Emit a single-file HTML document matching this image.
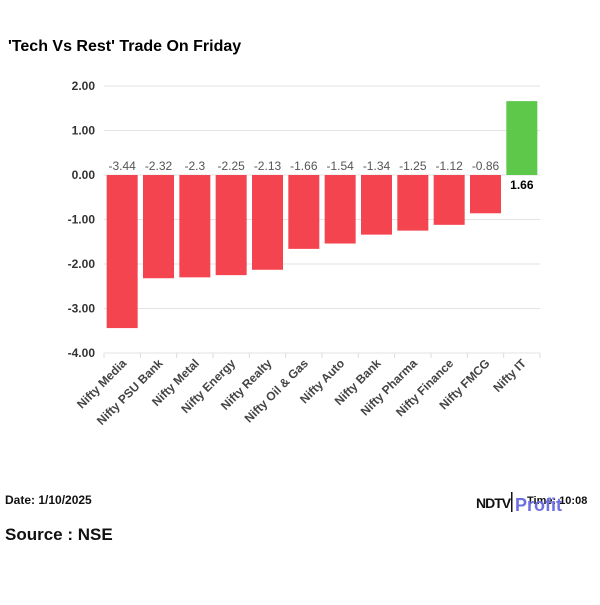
<!DOCTYPE html>
<html><head><meta charset="utf-8"><style>
body{margin:0;background:#fff;width:600px;height:600px;overflow:hidden;font-family:"Liberation Sans",sans-serif}
</style></head><body>
<svg width="600" height="600" xmlns="http://www.w3.org/2000/svg">
<text x="8" y="51" font-size="16" font-weight="bold" fill="#000">'Tech Vs Rest' Trade On Friday</text>
<g id="grid"></g><g id="bars"></g><g id="labels"></g>
<text x="5" y="504" font-size="12" font-weight="bold" fill="#111">Date: 1/10/2025</text>
<text x="5" y="540" font-size="17" font-weight="bold" fill="#111">Source : NSE</text>
<g>
<text x="476" y="508" font-size="14" font-weight="bold" fill="#111" letter-spacing="-1">NDTV</text>
<rect x="511" y="492" width="1.5" height="20" fill="#111"/>
<text x="527" y="504" font-size="11" font-weight="bold" fill="#111">Time: 10:08</text>
<text x="515" y="511" font-size="18" font-weight="bold" fill="#6b6fe0">Profit</text>
</g>
</svg>
<script>
const categories=["Nifty Media","Nifty PSU Bank","Nifty Metal","Nifty Energy","Nifty Realty","Nifty Oil & Gas","Nifty Auto","Nifty Bank","Nifty Pharma","Nifty Finance","Nifty FMCG","Nifty IT"];
const values=[-3.44,-2.32,-2.3,-2.25,-2.13,-1.66,-1.54,-1.34,-1.25,-1.12,-0.86,1.66];
const valueLabels=["-3.44","-2.32","-2.3","-2.25","-2.13","-1.66","-1.54","-1.34","-1.25","-1.12","-0.86","1.66"];
const yTicks=[2,1,0,-1,-2,-3,-4];
const tickLabels=["2.00","1.00","0.00","-1.00","-2.00","-3.00","-4.00"];
const NS="http://www.w3.org/2000/svg";
const x0=104,x1=540,y=v=>175-(v*44.5);
const band=(x1-x0)/categories.length;
const xs=i=>x0+i*band;
function mk(t,a,p){const e=document.createElementNS(NS,t);for(const k in a)e.setAttribute(k,a[k]);p.appendChild(e);return e;}
const g=document.getElementById('grid'),b=document.getElementById('bars'),l=document.getElementById('labels');
yTicks.forEach((v,i)=>{
const ln=mk('line',{x1:x0,x2:x1,y1:y(v),y2:y(v),stroke:'#e3e3e3','stroke-width':1},g);


const t=mk('text',{x:95,y:y(v)+4,'text-anchor':'end','font-size':12,'font-weight':'bold',fill:'#333'},g);
t.textContent=tickLabels[i];


});
for(let i=0;i<=categories.length;i++){mk('line',{x1:xs(i),x2:xs(i),y1:353,y2:358,stroke:'#ddd'},g);}
categories.forEach((c,i)=>{
const v=values[i],cx=xs(i)+band/2;
const top=Math.min(y(v),y(0)),h=Math.abs(y(v)-y(0));
const r=mk('rect',{x:cx-15.5,y:top,width:31,height:h,fill:v<0?'#f4444f':'#5ec84a'},b);


const vt=mk('text',{x:cx,y:v<0?y(0)-5:y(0)+14,'text-anchor':'middle','font-size':12,'font-weight':v<0?'normal':'bold',fill:v<0?'#555':'#000'},l);
vt.textContent=valueLabels[i];


const ct=mk('text',{x:cx+5,y:364,'text-anchor':'end','font-size':12,'font-weight':'bold',fill:'#444',transform:`rotate(-45 ${cx+5} 364)`},l);
ct.textContent=c;


});
</script>
</body></html>
